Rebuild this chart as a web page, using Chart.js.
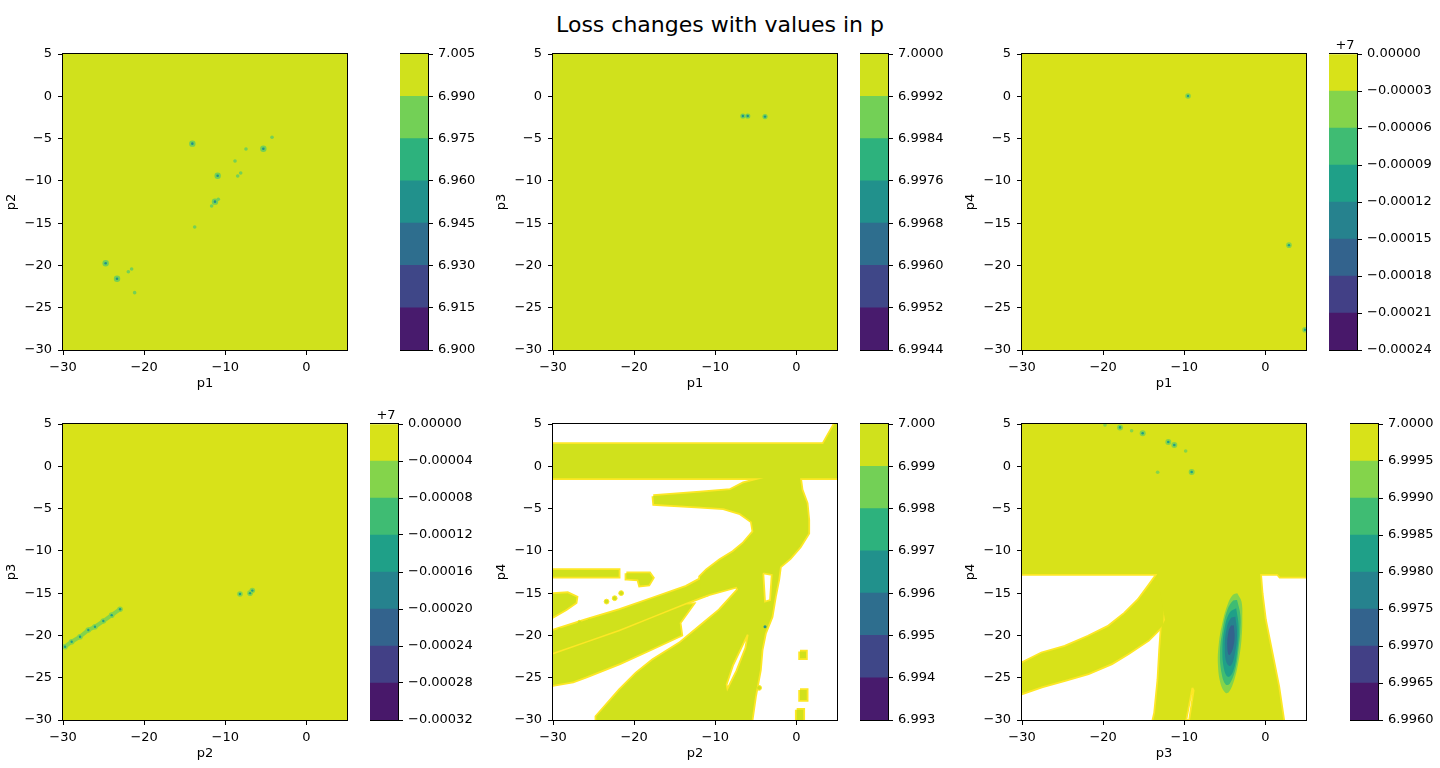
<!DOCTYPE html>
<html>
<head>
<meta charset="utf-8">
<script src="https://cdn.jsdelivr.net/npm/chart.js@4.4.1/dist/chart.umd.min.js"></script>
<style>
body{margin:0;background:#fff;width:1440px;height:768px;overflow:hidden;position:relative}
canvas{position:absolute}
#title{position:absolute;left:0;top:14px;width:1440px;text-align:center;font:22px/22px "DejaVu Sans";color:#000}
</style>
</head>
<body>
<div id="title">Loss changes with values in p</div>
<script>
// axis ticks
const X_TICKS=[-30,-20,-10,0]
const Y_TICKS=[-30,-25,-20,-15,-10,-5,0,5]

// colorbar levels
const CB1_LEVELS=[6.900,6.915,6.930,6.945,6.960,6.975,6.990,7.005]
const CB2_LEVELS=[6.9944,6.9952,6.9960,6.9968,6.9976,6.9984,6.9992,7.0000]
const CB3_LEVELS=[-0.00024,-0.00021,-0.00018,-0.00015,-0.00012,-0.00009,-0.00006,-0.00003,0]
const CB4_LEVELS=[-0.00032,-0.00028,-0.00024,-0.00020,-0.00016,-0.00012,-0.00008,-0.00004,0]
const CB5_LEVELS=[6.993,6.994,6.995,6.996,6.997,6.998,6.999,7.000]
const CB6_LEVELS=[6.9960,6.9965,6.9970,6.9975,6.9980,6.9985,6.9990,6.9995,7.0000]

// viridis band colours (7 and 8 filled levels)
const C7=["#481b6d","#3f4788","#2e6e8e","#21918c","#2db27d","#73d056","#d0e11c"]
const C8=["#48186a","#424086","#33638d","#26828e","#1fa088","#3fbc73","#84d44b","#d8e219"]
const EDGE="#fde725"

// filled regions [x,y]
const FULL=[[-30,-30],[5,-30],[5,5],[-30,5]]

const P1_BIG=[[-14.06,-5.6],[-5.31,-6.2],[-10.94,-9.39],[-11.27,-12.46],[-24.74,-19.75],[-23.34,-21.57]]
const P1_SMALL=[[-4.24,-4.85],[-7.45,-6.23],[-8.8,-7.65],[-8.47,-9.43],[-8.1,-9.07],[-13.77,-15.46],
[-21.95,-20.74],[-21.54,-20.42],[-21.17,-23.22],[-11.68,-12.97],[-10.86,-12.18]]

const P2_SPOTS=[[-6.6,-2.33],[-6.0,-2.33],[-3.87,-2.4]]

const P3_SPOTS=[[-9.54,0.03],[2.9,-17.6],[4.88,-27.6]]

const P4_CHAIN=[[-29.75,-21.33],[-28.93,-20.74],[-27.9,-20.15],[-26.88,-19.36],[-26.06,-18.97],[-25.03,-18.3],[-24.0,-17.6],[-22.97,-16.9]]
const P4_SPOTS=[[-8.19,-15.1],[-6.95,-15.0],[-6.67,-14.7]]

const P5_BAND=[[-30,2.63],[3.3,2.63],[4.7,5],[5,5],[5,-1.42],[-30,-1.42]]
const P5_TRUNK=[[-17.64,-3.51],[-11.88,-3.1],[-8.18,-2.8],[-6.54,-2.0],[-3.66,-1.3],[0.44,-1.3],[0.65,-2.8],
[1.27,-4.38],[1.47,-6.35],[1.47,-7.93],[0.44,-9.5],[-0.79,-10.88],[-2.02,-11.87],[-2.23,-13.45],[-2.64,-15.42],
[-3.05,-17.78],[-3.87,-19.75],[-4.28,-21.72],[-4.49,-24.09],[-5.1,-27.24],[-5.51,-30],[-24.66,-30],[-24.66,-29.6],
[-21.78,-26.45],[-19.73,-24.48],[-17.68,-22.9],[-14.39,-20.93],[-11.92,-18.96],[-9.46,-16.99],[-7.2,-14.6],
[-7.36,-14.23],[-11.88,-15.42],[-11.88,-13.05],[-11.06,-12.26],[-9.42,-11.08],[-7.77,-10.1],[-6.54,-9.11],
[-5.31,-7.73],[-5.51,-6.55],[-6.95,-5.56],[-9.0,-4.97],[-11.88,-4.78],[-17.55,-4.46]]
const P5_B1=[[-30,-19.44],[-25.89,-18.17],[-21.78,-16.99],[-17.68,-15.61],[-13.57,-14.23],[-11.0,-12.9],[-10.6,-13.5],
[-11.0,-15.2],[-13.57,-16.15],[-17.68,-17.73],[-21.78,-19.31],[-25.89,-20.69],[-30,-22.06]]
const P5_B2=[[-30,-22.25],[-25.89,-20.88],[-21.78,-19.5],[-17.68,-17.92],[-13.57,-16.34],[-12.75,-16.3],[-14.39,-18.49],
[-14.18,-19.95],[-17.68,-21.52],[-21.78,-23.3],[-25.89,-24.87],[-27.54,-25.46],[-30,-25.86]]
const P5_BAR=[[-30,-12.26],[-21.9,-12.26],[-21.9,-13.05],[-30,-13.05]]
const P5_BLOB=[[-20.96,-12.66],[-18.1,-12.66],[-17.7,-13.2],[-18.2,-14.0],[-19.3,-14.1],[-19.5,-13.4],[-20.9,-13.3]]
const P5_LEFT=[[-30,-15.1],[-28.2,-15.0],[-27.1,-15.5],[-27.2,-16.1],[-28.4,-16.9],[-30,-17.8]]
const P5_R1=[[0.44,-21.9],[1.18,-21.9],[1.18,-22.7],[0.44,-22.7]]
const P5_R2=[[0.44,-26.45],[1.27,-26.45],[1.27,-27.63],[0.44,-27.63]]
const P5_R3=[[0.03,-28.8],[0.85,-28.8],[0.85,-30],[0.03,-30]]
const P5_HOLE1=[[-6.0,-19.9],[-6.3,-21.5],[-7.4,-24.2],[-8.5,-26.3],[-8.6,-25.8],[-7.8,-23.5],[-6.7,-21.3]]
const P5_HOLE2=[[-4.08,-12.66],[-3.05,-12.85],[-3.25,-15.81],[-3.87,-16.0]]
const P5_DOTS=[[-23.4,-16.0],[-22.4,-15.6],[-21.6,-15.0],[-29.2,-19.35],[-26.7,-18.5],[-25.5,-18.25],[-4.6,-26.2]]
const P5_SPOT=[[-3.87,-18.96]]

const P6_TOP=[[-30,5],[5,5],[5,-13.05],[1.8,-13.05],[1.5,-12.73],[-30,-12.73]]
const P6_TRUNK=[[-13.4,-12.5],[-0.67,-12.5],[-0.46,-15.02],[-0.05,-18.17],[0.77,-22.1],[1.59,-26.05],[2.2,-30],
[-13.81,-30],[-13.61,-29.2],[-13.2,-25.27],[-12.99,-21.72],[-12.79,-18.96],[-12.38,-18.17]]
const P6_ARC=[[-13.2,-12.6],[-14.43,-14.23],[-15.66,-15.81],[-17.3,-17.38],[-19.36,-18.96],[-21.83,-20.14],[-24.7,-21.33],
[-27.58,-22.11],[-30,-23.3],[-30,-26.85],[-27.58,-26.05],[-24.7,-25.27],[-21.83,-24.48],[-18.95,-23.3],[-16.9,-22.11],
[-14.43,-20.54],[-12.6,-18.76],[-12.4,-14]]
const P6_HOLE=[[-9.0,-26.2],[-8.85,-26.5],[-9.4,-30],[-9.75,-30]]
const P6_E1=[[-3.47,-15.0],[-2.95,-16.0],[-2.85,-18.0],[-2.95,-20.5],[-3.3,-23.0],[-3.85,-25.3],[-4.5,-26.7],[-4.9,-26.8],
[-5.5,-25.8],[-5.85,-23.5],[-5.75,-21.0],[-5.3,-18.5],[-4.6,-16.2],[-4.0,-15.2]]
const P6_E2=[[-3.5,-15.8],[-3.1,-17.5],[-3.1,-19.5],[-3.3,-21.5],[-3.7,-24],[-4.4,-25.7],[-4.9,-25.8],[-5.4,-24.5],
[-5.6,-22],[-5.3,-19.5],[-4.7,-17],[-4.0,-15.9]]
const P6_E3=[[-3.6,-16.8],[-3.3,-19],[-3.5,-22],[-4.0,-24.3],[-4.6,-24.9],[-5.1,-24],[-5.3,-21.5],[-5.0,-19],[-4.4,-17.3]]
const P6_E4=[[-3.7,-17.8],[-3.5,-19.8],[-3.8,-22.3],[-4.3,-23.6],[-4.8,-23.2],[-5.0,-21.3],[-4.8,-19.3],[-4.3,-18.0]]
const P6_E5=[[-3.9,-18.8],[-3.8,-20.3],[-4.1,-21.8],[-4.5,-22.3],[-4.7,-21.3],[-4.6,-19.8],[-4.3,-18.9]]
const P6_BIG=[[-17.92,4.6],[-15.13,3.9],[-11.97,2.87],[-11.23,2.52],[-9.09,-0.67]]
const P6_SMALL=[[-19.77,4.88],[-16.49,4.21],[-9.83,1.81],[-13.28,-0.71]]

const FONT={family:"DejaVu Sans",size:13}
Chart.defaults.font.family="DejaVu Sans"

function fmt(v,d){
let s=Math.abs(v)<1e-12?(0).toFixed(d):v.toFixed(d)
return s.replace("-","\u2212")
}

function addCanvas(left,top,w,h){
const cv=document.createElement("canvas")
cv.width=w
cv.height=h
cv.style.left=left+"px"
cv.style.top=top+"px"
cv.style.width=w+"px"
cv.style.height=h+"px"
document.body.appendChild(cv)
return cv
}

// black box round the chart area
const frame={
id:"frame",
afterDraw(c){
const a=c.chartArea,ctx=c.ctx
ctx.save()
ctx.strokeStyle="#000"
ctx.lineWidth=1
ctx.strokeRect(a.left-0.5,a.top-0.5,a.right-a.left+1,a.bottom-a.top+1)
ctx.restore()
}
}

function pts(p){return p.map(q=>({x:q[0],y:q[1]}))}

function poly(p,color,order,extra){
return Object.assign({
data:pts(p.concat([p[0]])),showLine:true,fill:"shape",backgroundColor:color,
borderColor:"rgba(0,0,0,0)",borderWidth:0,pointRadius:0,pointHoverRadius:0,tension:0,clip:0,order:order
},extra||{})
}
function outline(p){return poly(p,"rgba(0,0,0,0)",3,{fill:false,borderColor:EDGE,borderWidth:3.5})}
function hole(p){return poly(p,"#ffffff",1,{borderColor:EDGE,borderWidth:1.8})}
function dots(p,color,r,order,extra){
return Object.assign({
data:pts(p),showLine:false,pointRadius:r,pointHoverRadius:r,pointBackgroundColor:color,
backgroundColor:color,pointBorderWidth:0,borderWidth:0,clip:0,order:order
},extra||{})
}

function axis(title,isX){
return {
type:"linear",min:-30,max:5,
afterBuildTicks:s=>{s.ticks=(isX?X_TICKS:Y_TICKS).map(v=>({value:v}))},
afterFit:s=>{if(isX)s.height=45;else s.width=63},
grid:{drawOnChartArea:false,tickLength:5,color:"#000",tickColor:"#000"},
border:{display:false},
ticks:{color:"#000",font:FONT,padding:isX?5:6,maxRotation:0,autoSkip:false,callback:v=>fmt(v,0)},
title:{display:true,text:title,color:"#000",font:FONT}
}
}

function plotPanel(left,top,xTitle,yTitle,datasets){
const cv=addCanvas(left-63,top-16,63+284+8,16+296+45)
new Chart(cv,{
type:"line",
data:{datasets:datasets},
options:{
responsive:false,animation:false,events:[],devicePixelRatio:1,
layout:{padding:{top:16,right:8,left:0,bottom:0}},
plugins:{legend:{display:false},tooltip:{enabled:false}},
scales:{x:axis(xTitle,true),y:axis(yTitle,false)}
},
plugins:[frame]
})
}

function colorbar(left,top,levels,colors,dec,offset){
const cv=addCanvas(left,top-24,28+95,24+296+16)
const ds=colors.map((c,i)=>({
data:[[levels[i],levels[i+1]]],backgroundColor:c,borderWidth:0,grouped:false,
barPercentage:1,categoryPercentage:1
}))
const offsetText={
id:"offsetText",
afterDraw(c){
if(!offset)return
const a=c.chartArea,ctx=c.ctx
ctx.save()
ctx.fillStyle="#000"
ctx.font="13px 'DejaVu Sans'"
ctx.textAlign="center"
ctx.textBaseline="alphabetic"
ctx.fillText(offset,(a.left+a.right)/2+2,a.top-5)
ctx.restore()
}
}
new Chart(cv,{
type:"bar",
data:{labels:[""],datasets:ds},
options:{
responsive:false,animation:false,events:[],devicePixelRatio:1,
layout:{padding:{top:24,bottom:16,left:0,right:0}},
plugins:{legend:{display:false},tooltip:{enabled:false}},
scales:{
x:{display:false},
y:{
position:"right",min:levels[0],max:levels[levels.length-1],
afterBuildTicks:s=>{s.ticks=levels.map(v=>({value:v}))},
afterFit:s=>{s.width=95},
grid:{drawOnChartArea:false,tickLength:5,color:"#000",tickColor:"#000"},
border:{display:false},
ticks:{color:"#000",font:FONT,padding:5,autoSkip:false,callback:v=>fmt(v,dec)}
}
}
},
plugins:[frame,offsetText]
})
}

// row 1
plotPanel(63,54,"p1","p2",[
poly(FULL,C7[6],2),
dots(P1_SMALL,C7[5],1.8,0),
dots(P1_BIG,C7[5],3.2,0),
dots(P1_BIG,C7[3],1.3,-1)
])
colorbar(400,54,CB1_LEVELS,C7,3,null)

plotPanel(553,54,"p1","p3",[
poly(FULL,C7[6],2),
dots(P2_SPOTS,C7[5],2.6,0),
dots(P2_SPOTS,C7[3],1.2,-1)
])
colorbar(860,54,CB2_LEVELS,C7,4,null)

plotPanel(1022,54,"p1","p4",[
poly(FULL,C8[7],2),
dots(P3_SPOTS,C8[6],2.8,0),
dots(P3_SPOTS,C8[4],1.2,-1)
])
colorbar(1329,54,CB3_LEVELS,C8,5,"+7")

// row 2
plotPanel(63,424,"p2","p3",[
poly(FULL,C8[7],2),
Object.assign(dots(P4_CHAIN,C8[6],2.8,0),{showLine:true,borderColor:C8[6],borderWidth:4,fill:false}),
dots(P4_SPOTS,C8[6],2.8,0),
dots(P4_CHAIN,C8[4],1.2,-1),
dots(P4_SPOTS,C8[4],1.2,-1)
])
colorbar(370,424,CB4_LEVELS,C8,5,"+7")

const P5_FILLS=[P5_BAND,P5_TRUNK,P5_B1,P5_B2,P5_BAR,P5_BLOB,P5_LEFT,P5_R1,P5_R2,P5_R3]
plotPanel(553,424,"p2","p4",[].concat(
P5_FILLS.map(outline),
P5_FILLS.map(p=>poly(p,C7[6],2)),
[hole(P5_HOLE1),hole(P5_HOLE2),
dots(P5_DOTS,C7[6],2.4,2,{pointBorderColor:EDGE,pointBorderWidth:1}),
dots(P5_SPOT,C7[3],1.5,-1)]
))
colorbar(860,424,CB5_LEVELS,C7,3,null)

const P6_FILLS=[P6_TOP,P6_TRUNK,P6_ARC]
plotPanel(1022,424,"p3","p4",[].concat(
P6_FILLS.map(outline),
P6_FILLS.map(p=>poly(p,C8[7],2)),
[hole(P6_HOLE),
poly(P6_E1,C8[6],0.9,{tension:0.4}),
poly(P6_E2,C8[5],0.8,{tension:0.4}),
poly(P6_E3,C8[4],0.7,{tension:0.4}),
poly(P6_E4,C8[3],0.6,{tension:0.4}),
poly(P6_E5,C8[2],0.5,{tension:0.4}),
dots(P6_SMALL,C8[6],1.8,0),
dots(P6_BIG,C8[6],3,0),
dots(P6_BIG,C8[4],1.3,-1)]
))
colorbar(1350,424,CB6_LEVELS,C8,4,null)
</script>
</body>
</html>
